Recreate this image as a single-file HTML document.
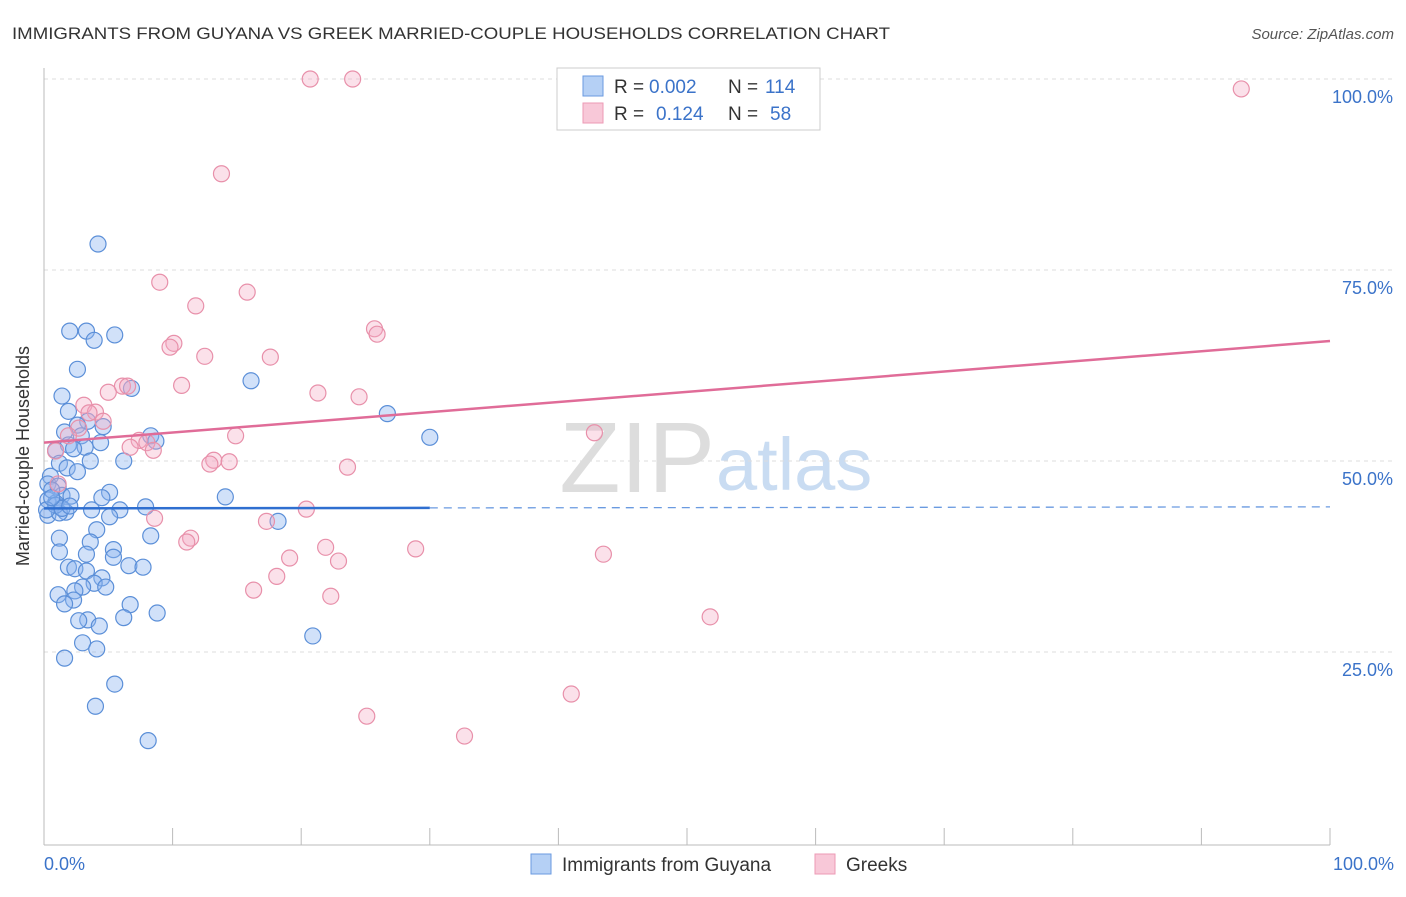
<!DOCTYPE html>
<html><head><meta charset="utf-8"><style>
body{margin:0;background:#fff;font-family:"Liberation Sans",sans-serif;}
svg text{font-family:"Liberation Sans",sans-serif;}
</style></head><body>
<svg width="1406" height="892">
<text x="12" y="39" font-size="17" fill="#333" textLength="878" lengthAdjust="spacingAndGlyphs">IMMIGRANTS FROM GUYANA VS GREEK MARRIED-COUPLE HOUSEHOLDS CORRELATION CHART</text>
<text x="1394" y="39" font-size="15" fill="#555" font-style="italic" text-anchor="end">Source: ZipAtlas.com</text>
<text x="715" y="492" font-size="100" fill="#ddd" text-anchor="end" font-family="Liberation Serif">ZIP</text>
<text x="716" y="490" font-size="74" fill="#c9dcf2">atlas</text>
<g id="grid"></g>
<line x1="44" y1="68" x2="44" y2="845" stroke="#bbb"/>
<line x1="44" y1="845" x2="1330" y2="845" stroke="#bbb"/>
<text x="29" y="456" font-size="18" fill="#333" text-anchor="middle" transform="rotate(-90 29 456)">Married-couple Households</text>
<text x="44" y="870" font-size="18" fill="#3b73c9">0.0%</text>
<text x="1394" y="870" font-size="18" fill="#3b73c9" text-anchor="end">100.0%</text>
<g id="points"></g>
<g id="lines"></g>
<g>
<rect x="557" y="68" width="263" height="62" fill="#fff" stroke="#ccc"/>
<rect x="583" y="76" width="20" height="20" fill="#b5d0f5" stroke="#6a9ae0"/>
<rect x="583" y="103" width="20" height="20" fill="#f8c8d8" stroke="#ec9ab5"/>
<text x="614" y="93" font-size="19" fill="#333">R =</text>
<text x="649" y="93" font-size="19" fill="#3b73c9">0.002</text>
<text x="728" y="93" font-size="19" fill="#333">N =</text>
<text x="765" y="93" font-size="19" fill="#3b73c9">114</text>
<text x="614" y="120" font-size="19" fill="#333">R =</text>
<text x="656" y="120" font-size="19" fill="#3b73c9">0.124</text>
<text x="728" y="120" font-size="19" fill="#333">N =</text>
<text x="770" y="120" font-size="19" fill="#3b73c9">58</text>
</g>
<g>
<rect x="531" y="854" width="20" height="20" fill="#b5d0f5" stroke="#6a9ae0"/>
<text x="562" y="871" font-size="19" fill="#333">Immigrants from Guyana</text>
<rect x="815" y="854" width="20" height="20" fill="#f8c8d8" stroke="#ec9ab5"/>
<text x="846" y="871" font-size="19" fill="#333">Greeks</text>
</g>
</svg>
<script>
const yTicks=[25,50,75,100];
const yTickLabels=["25.0%","50.0%","75.0%","100.0%"];
const xTicks=[0,10,20,30,40,50,60,70,80,90,100];
const blueX=[4.2,2.0,3.3,5.5,3.9,2.6,16.1,6.8,1.4,1.9,26.7,3.4,2.6,4.6,1.6,8.3,30.0,2.9,8.7,4.4,1.9,3.2,0.9,2.3,6.2,3.6,1.2,1.8,2.6,0.5,0.3,1.1,5.1,14.1,4.5,1.4,2.1,0.3,0.9,7.9,5.9,3.7,1.7,0.3,1.2,5.1,18.2,4.1,8.3,1.2,3.6,5.4,1.2,3.3,5.4,1.9,2.4,6.6,7.7,3.3,4.5,3.9,3.0,4.8,2.4,1.1,2.3,1.6,6.7,8.8,6.2,3.4,2.7,4.3,20.9,3.0,4.1,1.6,5.5,4.0,8.1,0.6,0.9,0.2,1.4,2.0,0.6];
const blueY=[78.4,67.0,67.0,66.5,65.8,62.0,60.5,59.5,58.5,56.5,56.2,55.2,54.7,54.5,53.8,53.3,53.1,53.3,52.6,52.4,52.1,51.8,51.4,51.6,50.0,50.0,49.7,49.1,48.6,48.0,47.0,46.7,45.9,45.3,45.2,45.5,45.4,44.9,44.5,44.0,43.6,43.6,43.3,42.9,43.2,42.7,42.1,41.0,40.2,39.9,39.4,38.4,38.1,37.8,37.4,36.1,35.9,36.3,36.1,35.6,34.7,34.0,33.5,33.5,33.0,32.5,31.8,31.3,31.2,30.1,29.5,29.2,29.1,28.4,27.1,26.2,25.4,24.2,20.8,17.9,13.4,46.2,44.2,43.6,43.8,44.1,45.2];
const pinkX=[20.7,24.0,93.1,13.8,9.0,15.8,11.8,25.7,25.9,10.1,9.8,12.5,17.6,10.7,6.1,6.5,5.0,21.3,24.5,3.1,4.0,3.5,4.6,2.7,1.9,14.9,42.8,7.4,8.0,6.7,8.5,0.9,13.2,14.4,12.9,23.6,1.1,8.6,17.3,20.4,11.4,11.1,21.9,28.9,43.5,19.1,22.9,18.1,16.3,22.3,51.8,41.0,25.1,32.7];
const pinkY=[100,100,98.7,87.6,73.4,72.1,70.3,67.3,66.6,65.4,64.9,63.7,63.6,59.9,59.8,59.8,59.0,58.9,58.4,57.3,56.4,56.3,55.2,54.3,53.3,53.3,53.7,52.7,52.4,51.8,51.4,51.3,50.1,49.9,49.6,49.2,47.0,42.5,42.1,43.7,39.9,39.4,38.7,38.5,37.8,37.3,36.9,34.9,33.1,32.3,29.6,19.5,16.6,14.0];
const blueFit=[43.8,44.0];
const pinkFit=[52.4,65.7];
const NS="http://www.w3.org/2000/svg";
const X=v=>44+v*12.86, Y=v=>843-v*7.64;
function mk(t,a,p){const e=document.createElementNS(NS,t);for(const k in a)e.setAttribute(k,a[k]);p.appendChild(e);return e;}
const grid=document.getElementById('grid');
yTicks.forEach((t,i)=>{
 const l=mk('line',{x1:44,x2:1394,y1:Y(t),y2:Y(t),stroke:'#ddd','stroke-dasharray':'4 4'},grid);
 
 
 const tx=mk('text',{x:1393,y:Y(t)+24,'font-size':18,fill:'#3b73c9','text-anchor':'end'},grid);
 tx.textContent=yTickLabels[i];
 
 
});
xTicks.forEach(t=>{
 const l=mk('line',{x1:X(t),x2:X(t),y1:828,y2:845,stroke:'#bbb'},grid);
 
 
});
const pts=document.getElementById('points');
blueX.forEach((v,i)=>{
 const c=mk('circle',{cx:X(v),cy:Y(blueY[i]),r:8,fill:'rgba(140,180,240,0.4)',stroke:'#5b8fd8','stroke-width':1.2},pts);
 
 
});
pinkX.forEach((v,i)=>{
 const c=mk('circle',{cx:X(v),cy:Y(pinkY[i]),r:8,fill:'rgba(244,170,196,0.35)',stroke:'#e890aa','stroke-width':1.2},pts);
 
 
});
const ln=document.getElementById('lines');
const bAt=x=>blueFit[0]+(blueFit[1]-blueFit[0])*x/100;
let l1=mk('line',{x1:X(0),y1:Y(bAt(0)),x2:X(30),y2:Y(bAt(30)),stroke:'#2f6fd0','stroke-width':2.5},ln);


let l2=mk('line',{x1:X(30),y1:Y(bAt(30)),x2:X(100),y2:Y(bAt(100)),stroke:'#6a9ae0','stroke-width':1.3,'stroke-dasharray':'8 6'},ln);


let l3=mk('line',{x1:X(0),y1:Y(pinkFit[0]),x2:X(100),y2:Y(pinkFit[1]),stroke:'#e06c98','stroke-width':2.5},ln);


</script>
</body></html>
